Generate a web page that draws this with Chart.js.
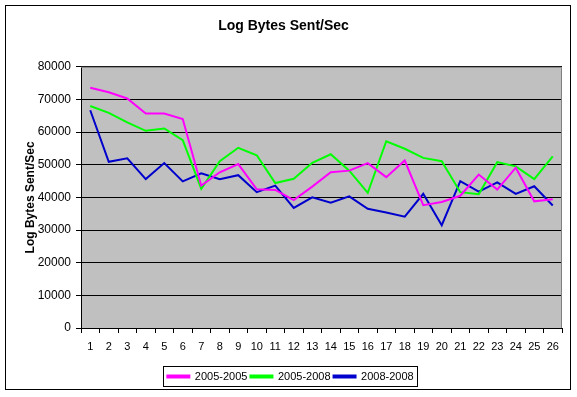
<!DOCTYPE html>
<html>
<head>
<meta charset="UTF-8">
<title>Log Bytes Sent/Sec</title>
<script src="https://cdn.jsdelivr.net/npm/chart.js"></script>
<style>
    body, html {
        margin: 0;
        padding: 0;
        background: #fff;
    }
    #chart {
        display: block;
    }
</style>
</head>
<body>
<canvas id="chart" width="577" height="397"></canvas>
<script>
    // values
    const labels = ['1','2','3','4','5','6','7','8','9','10','11','12','13','14','15','16','17','18','19','20','21','22','23','24','25','26'];
    const s2005_2005 = [73600, 72200, 70300, 65700, 65700, 64000, 43600, 47700, 50200, 42500, 42300, 39200, 43300, 47700, 48200, 50500, 46200, 51300, 37600, 38600, 40500, 47000, 42400, 49100, 38800, 39400];
    const s2005_2008 = [68000, 65900, 63000, 60400, 61100, 57500, 42600, 51100, 55200, 52900, 44400, 45700, 50600, 53200, 48200, 41400, 57200, 54900, 52100, 51100, 41600, 41000, 50800, 49500, 45600, 52600];
    const s2008_2008 = [66700, 50900, 52000, 45600, 50500, 44900, 47400, 45600, 46800, 41600, 43600, 36800, 40000, 38400, 40300, 36500, 35400, 34100, 41100, 31500, 45000, 41800, 44600, 41100, 43400, 37500];
    const yTicks = [0, 10000, 20000, 30000, 40000, 50000, 60000, 70000, 80000];

    const fontFamily = 'Arial, "Liberation Sans", sans-serif';

    // grey plot area, outer frame and box round the legend
    const frame = {
        id: 'frame',
        afterLayout(chart) {
            // legend sits a bit right of the canvas centre in the original
            chart.legend.left += 7;
            chart.legend.right += 7;
        },
        beforeDraw(chart) {
            const ctx = chart.ctx;
            const a = chart.chartArea;
            ctx.save();
            ctx.fillStyle = '#fff';
            ctx.fillRect(0, 0, chart.width, chart.height);
            ctx.fillStyle = '#c0c0c0';
            ctx.fillRect(a.left, a.top, a.right - a.left, a.bottom - a.top);
            ctx.restore();
        },
        beforeDatasetsDraw(chart) {
            const ctx = chart.ctx;
            const a = chart.chartArea;
            ctx.save();
            ctx.strokeStyle = '#808080';
            ctx.lineWidth = 1;
            ctx.beginPath();
            ctx.moveTo(a.left, a.top + 0.5);
            ctx.lineTo(a.right - 0.5, a.top + 0.5);
            ctx.lineTo(a.right - 0.5, a.bottom);
            ctx.stroke();
            ctx.restore();
        },
        afterDraw(chart) {
            const ctx = chart.ctx;
            ctx.save();
            ctx.strokeStyle = '#000';
            ctx.lineWidth = 1;
            ctx.strokeRect(5.5, 5.5, 565, 384);
            const boxes = chart.legend.legendHitBoxes;
            if (boxes && boxes.length) {
                const l = Math.min(...boxes.map(b => b.left)) - 4;
                const r = Math.max(...boxes.map(b => b.left + b.width)) + 4;
                const t = Math.min(...boxes.map(b => b.top)) - 5;
                const btm = Math.max(...boxes.map(b => b.top + b.height)) + 4;
                ctx.strokeRect(Math.round(l) + 0.5, Math.round(t) + 0.5, Math.round(r - l), Math.round(btm - t));
            }
            ctx.restore();
        }
    };

    new Chart(document.getElementById('chart'), {
        type: 'line',
        data: {
            labels: labels,
            datasets: [
                { label: '2005-2005', data: s2005_2005, borderColor: '#ff00ff', backgroundColor: '#ff00ff' },
                { label: '2005-2008', data: s2005_2008, borderColor: '#00ff00', backgroundColor: '#00ff00' },
                { label: '2008-2008', data: s2008_2008, borderColor: '#0000cc', backgroundColor: '#0000cc' }
            ]
        },
        options: {
            responsive: false,
            animation: false,
            devicePixelRatio: 1,
            elements: {
                line: { borderWidth: 2, tension: 0 },
                point: { radius: 0 }
            },
            layout: {
                padding: { left: 5, right: 15, top: 0, bottom: 5 }
            },
            plugins: {
                title: {
                    display: true,
                    text: 'Log Bytes Sent/Sec',
                    color: '#000',
                    font: { family: fontFamily, size: 14, weight: 'bold' },
                    padding: { top: 18, bottom: 32 }
                },
                legend: {
                    position: 'bottom',
                    labels: {
                        color: '#000',
                        font: { family: fontFamily, size: 11 },
                        boxWidth: 22,
                        boxHeight: 2,
                        padding: 3
                    }
                },
                tooltip: { enabled: false }
            },
            scales: {
                x: {
                    offset: true,
                    grid: {
                        offset: true,
                        drawOnChartArea: false,
                        drawTicks: true,
                        tickLength: 5,
                        color: '#000'
                    },
                    border: { color: '#000', width: 1 },
                    ticks: {
                        color: '#000',
                        font: { family: fontFamily, size: 11 },
                        maxRotation: 0,
                        autoSkip: false,
                        padding: 7
                    },
                    afterFit(scale) { scale.height = 40; }
                },
                y: {
                    min: 0,
                    max: 80000,
                    afterBuildTicks(scale) { scale.ticks = yTicks.map(v => ({ value: v })); },
                    grid: {
                        color: '#000',
                        tickLength: 5
                    },
                    border: { color: '#000', width: 1 },
                    ticks: {
                        color: '#000',
                        font: { family: fontFamily, size: 12 },
                        padding: 5,
                        callback: v => String(v)
                    },
                    title: {
                        display: true,
                        text: 'Log Bytes Sent/Sec',
                        color: '#000',
                        font: { family: fontFamily, size: 12, weight: 'bold' },
                        padding: { top: 18, bottom: 0 }
                    },
                    afterFit(scale) { scale.width = 76; }
                }
            }
        },
        plugins: [frame]
    });
</script>
</body>
</html>
